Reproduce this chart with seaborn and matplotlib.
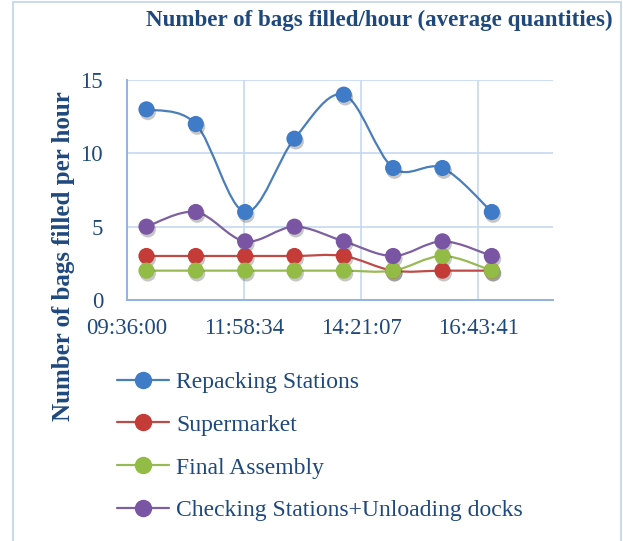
"""
Bags filled per hour - recreated line chart
"""
import numpy as np
import pandas as pd
import matplotlib
matplotlib.use("Agg")
import matplotlib.pyplot as plt
import matplotlib.patheffects as pe
from matplotlib.path import Path
from matplotlib.patches import PathPatch, Rectangle
from matplotlib.lines import Line2D
import seaborn as sns

# data
times = ["10:00", "11:00", "12:00", "13:00", "14:00", "15:00", "16:00", "17:00"]
repacking = [13, 12, 6, 11, 14, 9, 9, 6]
supermarket = [3, 3, 3, 3, 3, 2, 2, 2]
final_assembly = [2, 2, 2, 2, 2, 2, 3, 2]
checking = [5, 6, 4, 5, 4, 3, 4, 3]

series_names = ["Repacking Stations", "Supermarket", "Final Assembly",
                "Checking Stations+Unloading docks"]
x_tick_labels = ["09:36:00", "11:58:34", "14:21:07", "16:43:41"]
y_ticks = [0, 5, 10, 15]

colors = ["#3F7BC6", "#C43B37", "#92BC45", "#7A55A3"]
line_colors = ["#4A7EBB", "#BE4B48", "#98B954", "#7D60A0"]
TEXT = "#1F497D"


def to_days(t):
    h, m = t.split(":")
    return (int(h) + int(m) / 60) / 24


x_days = np.array([to_days(t) for t in times])
tick_days = [to_days(t[:5]) + int(t[6:]) / 86400 for t in x_tick_labels]

df = pd.DataFrame({
    "time": np.tile(x_days, 4),
    "value": repacking + supermarket + final_assembly + checking,
    "series": np.repeat(series_names, len(times)),
})


def smooth_path(xs, ys):
    # Excel-like smoothed line (Catmull-Rom as cubic Bezier)
    pts = np.column_stack([xs, ys]).astype(float)
    ext = np.vstack([pts[0], pts, pts[-1]])
    verts = [pts[0]]
    codes = [Path.MOVETO]
    for i in range(1, len(ext) - 2):
        p0, p1, p2, p3 = ext[i - 1], ext[i], ext[i + 1], ext[i + 2]
        c1 = p1 + (p2 - p0) / 6
        c2 = p2 - (p3 - p1) / 6
        verts += [c1, c2, p2]
        codes += [Path.CURVE4] * 3
    return Path(verts, codes)


sns.set_style("white")
plt.rcParams["font.family"] = ["Liberation Serif", "DejaVu Serif"]

fig = plt.figure(figsize=(6.23, 5.41), dpi=100)
ax = fig.add_axes([0.2034, 0.4455, 0.6842, 0.4066])

for name, lc in zip(series_names, line_colors):
    sub = df[df["series"] == name]
    patch = PathPatch(smooth_path(sub["time"], sub["value"]), facecolor="none",
                      edgecolor=lc, lw=1.6, zorder=2)
    ax.add_patch(patch)

sns.scatterplot(data=df, x="time", y="value", hue="series", palette=colors,
                s=135, edgecolor="none", legend=False, ax=ax, zorder=3)
for coll in ax.collections:
    coll.set_path_effects([pe.SimplePatchShadow(offset=(1, -2), alpha=0.3,
                                                shadow_rgbFace="#444444"),
                           pe.Normal()])

ax.set_xlim(0.4, 0.76)
ax.set_ylim(0, 15)
ax.set_xticks(tick_days)
ax.set_xticklabels(x_tick_labels)
ax.set_yticks(y_ticks)
ax.grid(True, color="#C6D9F1", lw=1.2)
ax.set_axisbelow(True)
for side in ["top", "right"]:
    ax.spines[side].set_visible(False)
for side in ["left", "bottom"]:
    ax.spines[side].set_color("#8EB4E3")
    ax.spines[side].set_linewidth(1.4)
ax.tick_params(axis="x", length=0, pad=13, labelsize=16.5, labelcolor=TEXT)
ax.tick_params(axis="y", length=0, pad=17, labelsize=16.5, labelcolor=TEXT)
ax.set_xlabel("")
ax.set_ylabel("Number of bags filled per hour", fontsize=18, fontweight="bold",
              color=TEXT)
ax.yaxis.set_label_coords(-0.122, 0.198)

fig.text(379 / 623, 1 - 20 / 541, "Number of bags filled/hour (average quantities)",
         ha="center", va="center", fontsize=16.6, fontweight="bold", color=TEXT)

handles = [Line2D([], [], color=lc, lw=1.6, marker="o", markersize=11.5,
                  markerfacecolor=c, markeredgecolor=c)
           for c, lc in zip(colors, line_colors)]
leg = fig.legend(handles, series_names, loc="upper left",
                 bbox_to_anchor=(108 / 623, 1 - 362 / 541), frameon=False,
                 fontsize=17, handlelength=2.2, handletextpad=0.3,
                 labelspacing=0.9, borderaxespad=0)
for t in leg.get_texts():
    t.set_color(TEXT)

fig.add_artist(Rectangle((13 / 623, -0.05), (621 - 13) / 623, 1.05 - 2 / 541,
                         transform=fig.transFigure, fill=False,
                         edgecolor="#CCDAEC", lw=1.5, clip_on=False))

plt.savefig("out.png", dpi=100)
